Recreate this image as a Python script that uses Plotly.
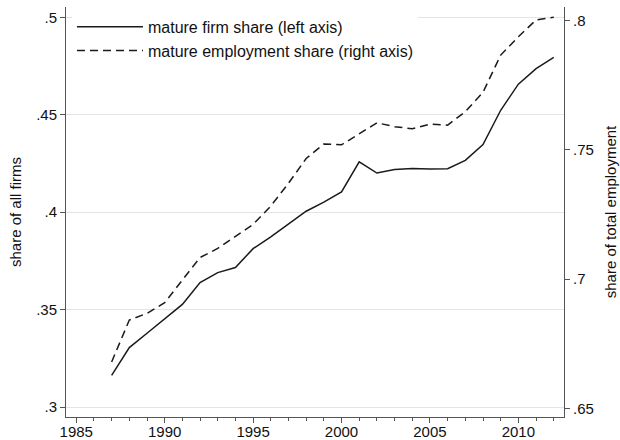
import plotly.graph_objects as go

years = list(range(1987, 2013))
firm_share = [0.3163, 0.3305, 0.3379, 0.3455, 0.3527, 0.3639, 0.3690, 0.3716,
              0.3813, 0.3873, 0.3938, 0.4005, 0.4052, 0.4104, 0.4258, 0.4201,
              0.4219, 0.4224, 0.4222, 0.4223, 0.4266, 0.4347, 0.4523, 0.4657,
              0.4737, 0.4794]
emp_share = [0.6680, 0.6842, 0.6868, 0.6909, 0.6997, 0.7084, 0.7119, 0.7167,
             0.7212, 0.7283, 0.7371, 0.7467, 0.7523, 0.7520, 0.7564, 0.7605,
             0.7590, 0.7582, 0.7600, 0.7596, 0.7648, 0.7723, 0.7867, 0.7938,
             0.8003, 0.8013]

x_ticks = [1985, 1990, 1995, 2000, 2005, 2010]
left_ticks = [0.3, 0.35, 0.4, 0.45, 0.5]
left_labels = [".3", ".35", ".4", ".45", ".5"]
right_ticks = [0.65, 0.7, 0.75, 0.8]
right_labels = [".65", ".7", ".75", ".8"]

FONT = "Liberation Sans, Arial, sans-serif"
AXC = "#555555"

fig = go.Figure()
fig.add_trace(go.Scatter(x=years, y=firm_share, mode="lines",
                         name="mature firm share (left axis)",
                         line=dict(color="#1a1a1a", width=1.5)))
fig.add_trace(go.Scatter(x=years, y=emp_share, mode="lines", yaxis="y2",
                         name="mature employment share (right axis)",
                         line=dict(color="#1a1a1a", width=1.5, dash="8px,5px")))

fig.update_layout(
    width=620, height=440,
    margin=dict(l=66, r=56, t=7, b=23),
    paper_bgcolor="white", plot_bgcolor="white",
    font=dict(family=FONT, size=14, color="#111111"),
    showlegend=True,
    legend=dict(x=0.012, y=0.993, xanchor="left", yanchor="top",
                bgcolor="white", borderwidth=0, font=dict(size=16),
                tracegroupgap=0, itemwidth=66),
    xaxis=dict(range=[1984.42, 2012.58], tickvals=x_ticks, automargin=False,
               ticks="outside", ticklen=5, tickcolor=AXC, tickwidth=1,
               ticklabelstandoff=-4,
               minor=dict(dtick=1, ticks="outside", ticklen=3, tickcolor=AXC, showgrid=False),
               showline=True, linecolor=AXC, linewidth=1, showgrid=False,
               zeroline=False, tickfont=dict(size=15)),
    yaxis=dict(range=[0.2949, 0.5053], tickvals=left_ticks, ticktext=left_labels,
               automargin=False,
               ticks="outside", ticklen=5, tickcolor=AXC, showline=True, linecolor=AXC,
               linewidth=1, showgrid=True, gridcolor="#e4e4e4", gridwidth=1,
               zeroline=False, tickfont=dict(size=15),
               title=dict(text="share of all firms", font=dict(size=15), standoff=10)),
    yaxis2=dict(range=[0.6467, 0.8053], tickvals=right_ticks, ticktext=right_labels,
                overlaying="y", side="right", anchor="x", automargin=False,
                ticks="outside", ticklen=5, tickcolor=AXC, showline=True, linecolor=AXC,
                linewidth=1, showgrid=False, zeroline=False, tickfont=dict(size=15),
                title=dict(text="share of total employment", font=dict(size=15), standoff=12)),
)

fig.write_html("out.html", config={"displayModeBar": False},
               post_script="document.body.style.margin='0';document.body.style.overflow='hidden';")
